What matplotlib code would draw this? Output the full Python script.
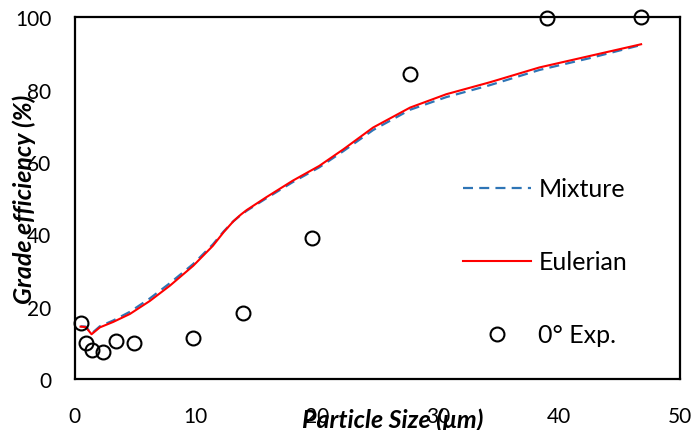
import matplotlib
matplotlib.use("Agg")
import matplotlib.pyplot as plt

plt.rcParams['font.family'] = ['Lato', 'DejaVu Sans']

# particle size (um) for the simulation curves
size_sim = [0.47, 0.9, 1.38, 2.07, 3.17, 4.55, 6.2, 7.85, 9.78, 11.4, 12.3, 13.1, 13.7,
            14.2, 15.8, 18.0, 20.2, 22.2, 24.65, 27.7, 30.7, 34.3, 38.4, 42.6, 46.8]
eulerian = [14.5, 14.4, 12.4, 14.3, 15.8, 18.0, 21.6, 25.8, 31.3, 36.8, 40.6, 43.6, 45.4,
            46.7, 50.2, 54.8, 58.9, 63.5, 69.5, 75.0, 78.7, 82.0, 86.1, 89.3, 92.5]
mixture = [14.6, 14.5, 12.6, 14.6, 16.2, 18.6, 22.3, 26.5, 31.8, 37.2, 40.8, 43.6, 45.3,
           46.5, 49.9, 54.4, 58.5, 63.0, 68.8, 74.4, 77.9, 81.2, 85.4, 88.7, 92.3]

# experiment
size_exp = [0.55, 0.91, 1.38, 2.34, 3.39, 4.88, 9.73, 13.9, 19.56, 27.7, 39.0, 46.8]
eff_exp = [15.5, 9.9, 8.0, 7.4, 10.6, 9.9, 11.5, 18.4, 39.1, 84.3, 99.7, 99.9]

fig, ax = plt.subplots(figsize=(6.93, 4.31), dpi=100)
fig.subplots_adjust(left=0.108, right=0.981, top=0.958, bottom=0.118)

ax.plot(size_sim, mixture, color='#2E75B6', lw=1.6, dashes=(4.5, 2.8), label='Mixture')
ax.plot(size_sim, eulerian, color='#FF0000', lw=1.5, label='Eulerian')
ax.plot(size_exp, eff_exp, 'o', ms=10, mfc='none', mec='black', mew=1.5,
        label='0° Exp.', clip_on=False)

ax.set_xlim(0, 50)
ax.set_ylim(0, 100)
ax.set_xticks(range(0, 51, 10))
ax.set_yticks(range(0, 101, 20))
ax.tick_params(axis='x', length=0, pad=19, labelsize=15)
ax.tick_params(axis='y', length=0, pad=17, labelsize=15)
for s in ax.spines.values():
    s.set_linewidth(1.6)

ax.set_xlabel('Particle Size (μm)', fontsize=18, fontweight='bold', style='italic', va='center')
ax.xaxis.set_label_coords(0.526, -0.11)
ax.set_ylabel('Grade efficiency (%)', fontsize=18, fontweight='bold', style='italic', va='center')
ax.yaxis.set_label_coords(-0.083, 0.5)

ax.legend(loc='center left', bbox_to_anchor=(0.641, 0.324), frameon=False, fontsize=18,
          handlelength=2.75, handletextpad=0.28, labelspacing=2.0, borderpad=0,
          borderaxespad=0)

fig.savefig('out.png', dpi=100)
